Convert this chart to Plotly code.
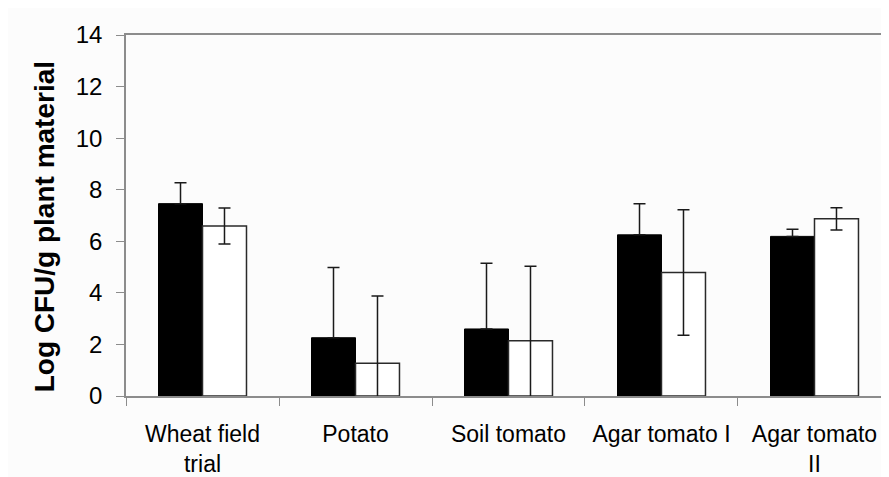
import plotly.graph_objects as go

categories = ["Wheat field<br>trial", "Potato", "Soil tomato", "Agar tomato I", "Agar tomato<br>II"]
black_values = [7.46, 2.26, 2.60, 6.25, 6.19]
black_err_plus = [0.81, 2.72, 2.55, 1.21, 0.28]
white_values = [6.59, 1.27, 2.14, 4.79, 6.87]
white_err = [0.70, 2.61, 2.89, 2.43, 0.43]
y_ticks = [0, 2, 4, 6, 8, 10, 12, 14]

AXIS = "#8c8c8c"
FONT = "Liberation Sans, Arial, sans-serif"

fig = go.Figure()
fig.add_trace(go.Bar(
    x=categories, y=black_values, name="black",
    marker=dict(color="#000000", line=dict(color="#000000", width=1)),
    error_y=dict(type="data", array=black_err_plus, arrayminus=[0] * len(black_values),
                 symmetric=False, color="#1a1a1a", thickness=1.5, width=6),
))
fig.add_trace(go.Bar(
    x=categories, y=white_values, name="white",
    marker=dict(color="#ffffff", line=dict(color="#2a2a2a", width=1.5)),
    error_y=dict(type="data", array=white_err, symmetric=True,
                 color="#1a1a1a", thickness=1.5, width=6),
))

# page body has an 8px default margin, so the figure is 8px smaller
fig.update_layout(
    width=881, height=469,
    margin=dict(l=118, r=0, t=27, b=79),
    paper_bgcolor="#fcfcfc", plot_bgcolor="#fcfcfc",
    barmode="group", bargap=0.425, bargroupgap=0,
    showlegend=False,
    font=dict(family=FONT, color="#000000"),
)
fig.update_xaxes(
    range=[-0.5, 4.487],
    showline=True, linecolor=AXIS, linewidth=1.5, mirror=True,
    ticks="outside", tickson="boundaries", ticklen=8, tickcolor=AXIS, tickwidth=1,
    tickfont=dict(size=23, family=FONT, color="#000000"),
    ticklabelstandoff=17,
    showgrid=False, zeroline=False,
)
fig.update_yaxes(
    range=[0, 14], tickvals=y_ticks,
    showline=True, linecolor=AXIS, linewidth=1.5,
    ticks="outside", ticklen=8, tickcolor=AXIS, tickwidth=1,
    tickfont=dict(size=24, family=FONT, color="#000000"),
    ticklabelstandoff=9,
    showgrid=False, zeroline=False,
)
fig.add_annotation(
    text="<b>Log CFU/g plant material</b>", textangle=-90,
    xref="paper", yref="paper", x=-0.1075, y=0.47,
    xanchor="center", yanchor="middle", showarrow=False,
    font=dict(size=28, family=FONT, color="#000000"),
)

fig.write_html("out.html")
